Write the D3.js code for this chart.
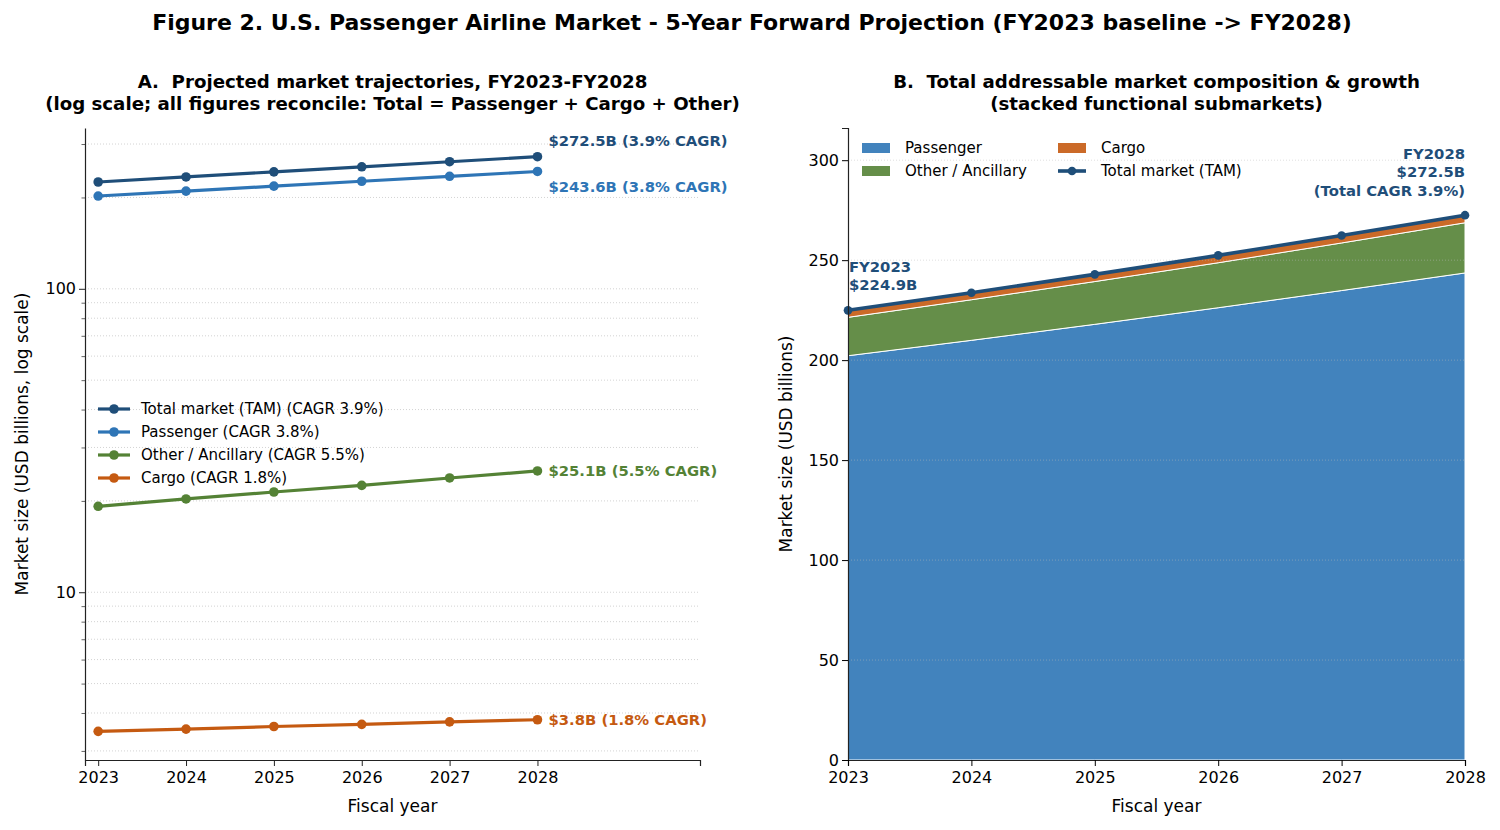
<!DOCTYPE html>
<html>
<head>
<meta charset="utf-8">
<script src="https://cdn.jsdelivr.net/npm/d3@7"></script>
<style>
  body { margin:0; background:#fff; }
  svg { font-family: "DejaVu Sans", sans-serif; }
  text { white-space: pre; }
</style>
</head>
<body>
<svg width="1500" height="830"></svg>
<script>
// --- données (milliards USD) ---
const years = [2023, 2024, 2025, 2026, 2027, 2028];
const passenger = [202.2, 209.9, 217.9, 226.2, 234.8, 243.6];
const cargo = [3.48, 3.54, 3.61, 3.67, 3.74, 3.80];
const other = [19.2, 20.3, 21.4, 22.5, 23.8, 25.1];
const total = [224.9, 233.7, 242.9, 252.4, 262.3, 272.5];
const cagr = {total: "3.9%", passenger: "3.8%", other: "5.5%", cargo: "1.8%"};

const col = {total: "#1f4e79", passenger: "#2e75b6", other: "#548235", cargo: "#c55a11"};

const TICK = 16, LABEL = 17, LEG = 15, ANN = 14.8;

const svg = d3.select("svg");

svg.append("text").attr("x", 752).attr("y", 30).attr("text-anchor", "middle")
   .attr("font-size", 22).attr("font-weight", "bold")
   .text("Figure 2. U.S. Passenger Airline Market - 5-Year Forward Projection (FY2023 baseline -> FY2028)");

function titre(cx, lignes){
    lignes.forEach((t,i)=>{
        svg.append("text").attr("x", cx).attr("y", 88 + i*21.5).attr("text-anchor","middle")
           .attr("font-size", 18.2).attr("font-weight","bold").text(t);
    });
}

// ============ panneau A (log) ============
const A = {x0: 85, x1: 700, y0: 128, y1: 760};
const xA = d3.scaleLinear().domain([2022.85, 2029.85]).range([A.x0, A.x1]);
const yA = d3.scaleLog().domain([2.80, 338.8]).range([A.y1, A.y0]);

titre((A.x0+A.x1)/2, ["A.  Projected market trajectories, FY2023-FY2028",
    "(log scale; all figures reconcile: Total = Passenger + Cargo + Other)"]);

const gA = svg.append("g");
const logTicks = [3,4,5,6,7,8,9,10,20,30,40,50,60,70,80,90,100,200,300];
gA.selectAll("line.grid").data(logTicks).enter().append("line")
  .attr("x1", A.x0).attr("x2", A.x1)
  .attr("y1", d=>yA(d)).attr("y2", d=>yA(d))
  .attr("stroke", "#c8c8c8").attr("stroke-width", 0.8).attr("stroke-dasharray", "1,2");

const axYA = d3.axisLeft(yA).tickValues(logTicks)
  .tickFormat(d => (d===10||d===100) ? d : "")
  .tickSize(0);
const gyA = gA.append("g").attr("transform", `translate(${A.x0},0)`).call(axYA);
gyA.selectAll(".tick line").remove();
gyA.selectAll(".tick").append("line")
   .attr("x2", d => (d===10||d===100) ? -6 : -3.5).attr("stroke","#222").attr("stroke-width", d => (d===10||d===100)?1:0.7);
gyA.selectAll("text").attr("font-size", TICK).attr("x", -9).attr("font-family","DejaVu Sans");
gyA.select(".domain").attr("stroke","#222").attr("stroke-width",1.2);

const axXA = d3.axisBottom(xA).tickValues(years).tickFormat(d3.format("d")).tickSize(6);
const gxA = gA.append("g").attr("transform", `translate(0,${A.y1})`).call(axXA);
gxA.selectAll("text").attr("font-size", TICK).attr("font-family","DejaVu Sans").attr("dy","0.85em");
gxA.select(".domain").attr("stroke","#222").attr("stroke-width",1.2);
gxA.selectAll(".tick line").attr("stroke","#222");

svg.append("text").attr("x", (A.x0+A.x1)/2).attr("y", 812).attr("text-anchor","middle")
   .attr("font-size", LABEL).text("Fiscal year");
svg.append("text").attr("transform", `translate(28,${(A.y0+A.y1)/2}) rotate(-90)`)
   .attr("text-anchor","middle").attr("font-size", LABEL).text("Market size (USD billions, log scale)");

const seriesA = [
  {key:"total", name:"Total market (TAM)", vals: total, dy:-16},
  {key:"passenger", name:"Passenger", vals: passenger, dy:15},
  {key:"other", name:"Other / Ancillary", vals: other, dy:0},
  {key:"cargo", name:"Cargo", vals: cargo, dy:0}
];
const ligneA = d3.line().x((d,i)=>xA(years[i])).y(d=>yA(d));
seriesA.slice().reverse().forEach(s=>{
    gA.append("path").attr("d", ligneA(s.vals)).attr("fill","none")
      .attr("stroke", col[s.key]).attr("stroke-width", 3.2).attr("stroke-linejoin","round");
    gA.selectAll(null).data(s.vals).enter().append("circle")
      .attr("cx",(d,i)=>xA(years[i])).attr("cy", d=>yA(d)).attr("r", 4.8).attr("fill", col[s.key]);
    const last = s.vals[s.vals.length-1];
    gA.append("text").attr("x", xA(2028)+11).attr("y", yA(last)+s.dy)
      .attr("dy","0.35em").attr("font-size", ANN).attr("font-weight","bold").attr("fill", col[s.key])
      .text(`$${last.toFixed(1)}B (${cagr[s.key]} CAGR)`);
});

// légende A
const legA = gA.append("g").attr("transform","translate(98,409)");
seriesA.forEach((s,i)=>{
    const g = legA.append("g").attr("transform",`translate(0,${i*23})`);
    g.append("line").attr("x1",0).attr("x2",32).attr("stroke",col[s.key]).attr("stroke-width",3.2);
    g.append("circle").attr("cx",16).attr("r",4.8).attr("fill",col[s.key]);
    g.append("text").attr("x",43).attr("dy","0.35em").attr("font-size",LEG)
     .text(`${s.name} (CAGR ${cagr[s.key]})`);
});

// ============ panneau B (empilé) ============
const B = {x0: 848, x1: 1465, y0: 128, y1: 760};
const xB = d3.scaleLinear().domain([2023, 2028]).range([B.x0, B.x1]);
const yB = d3.scaleLinear().domain([0, 316.1]).range([B.y1, B.y0]);

titre((B.x0+B.x1)/2, ["B.  Total addressable market composition & growth",
    "(stacked functional submarkets)"]);

const gB = svg.append("g");
const rows = years.map((y,i)=>({year:y, passenger:passenger[i], other:other[i], cargo:cargo[i]}));
const stack = d3.stack().keys(["passenger","other","cargo"])(rows);
const aire = d3.area().x(d=>xB(d.data.year)).y0(d=>yB(d[0])).y1(d=>yB(d[1]));
gB.selectAll("path.aire").data(stack).enter().append("path")
  .attr("d", aire).attr("fill", d=>col[d.key]).attr("fill-opacity",0.9)
  .attr("stroke","white").attr("stroke-width",1);

const yTicksB = [0,50,100,150,200,250,300];
gB.selectAll("line.grid").data(yTicksB.slice(1)).enter().append("line")
  .attr("x1", B.x0).attr("x2", B.x1).attr("y1", d=>yB(d)).attr("y2", d=>yB(d))
  .attr("stroke","#bbbbbb").attr("stroke-opacity",0.6).attr("stroke-width",0.8).attr("stroke-dasharray","1,2");

const ligneB = d3.line().x((d,i)=>xB(years[i])).y(d=>yB(d));
gB.append("path").attr("d", ligneB(total)).attr("fill","none")
  .attr("stroke", col.total).attr("stroke-width", 3.6);
gB.selectAll(null).data(total).enter().append("circle")
  .attr("cx",(d,i)=>xB(years[i])).attr("cy",d=>yB(d)).attr("r",4.3).attr("fill",col.total);

const gyB = gB.append("g").attr("transform",`translate(${B.x0},0)`)
  .call(d3.axisLeft(yB).tickValues(yTicksB).tickSize(6));
gyB.selectAll("text").attr("font-size",TICK).attr("font-family","DejaVu Sans");
gyB.select(".domain").attr("stroke","#222").attr("stroke-width",1.2);
const gxB = gB.append("g").attr("transform",`translate(0,${B.y1})`)
  .call(d3.axisBottom(xB).tickValues(years).tickFormat(d3.format("d")).tickSize(6));
gxB.selectAll("text").attr("font-size",TICK).attr("font-family","DejaVu Sans").attr("dy","0.85em");
gxB.select(".domain").attr("stroke","#222").attr("stroke-width",1.2);

svg.append("text").attr("x",(B.x0+B.x1)/2).attr("y",812).attr("text-anchor","middle")
   .attr("font-size",LABEL).text("Fiscal year");
svg.append("text").attr("transform",`translate(792,${(B.y0+B.y1)/2}) rotate(-90)`)
   .attr("text-anchor","middle").attr("font-size",LABEL).text("Market size (USD billions)");

// annotations B
const annot = (x, y, anchor, lignes) => {
    lignes.forEach((t,i)=>{
        svg.append("text").attr("x",x).attr("y",y+i*18.3).attr("text-anchor",anchor)
           .attr("font-size",ANN).attr("font-weight","bold").attr("fill",col.total).text(t);
    });
};
annot(B.x0+1, 272, "start", ["FY2023", `$${total[0].toFixed(1)}B`]);
annot(B.x1, 159, "end", ["FY2028", `$${total[5].toFixed(1)}B`, `(Total CAGR ${cagr.total})`]);

// légende B (2 colonnes)
const legB = [
  {name:"Passenger", key:"passenger", type:"patch", c:0, r:0},
  {name:"Other / Ancillary", key:"other", type:"patch", c:0, r:1},
  {name:"Cargo", key:"cargo", type:"patch", c:1, r:0},
  {name:"Total market (TAM)", key:"total", type:"line", c:1, r:1}
];
const gl = svg.append("g").attr("transform","translate(862,148)");
legB.forEach(it=>{
    const g = gl.append("g").attr("transform",`translate(${it.c*196},${it.r*23})`);
    if (it.type==="patch"){
        g.append("rect").attr("x",0).attr("y",-5).attr("width",28).attr("height",10)
         .attr("fill",col[it.key]).attr("fill-opacity",0.9);
    } else {
        g.append("line").attr("x1",0).attr("x2",28).attr("stroke",col[it.key]).attr("stroke-width",3.6);
        g.append("circle").attr("cx",14).attr("r",4.3).attr("fill",col[it.key]);
    }
    g.append("text").attr("x",43).attr("dy","0.35em").attr("font-size",LEG).text(it.name);
});
</script>
</body>
</html>
